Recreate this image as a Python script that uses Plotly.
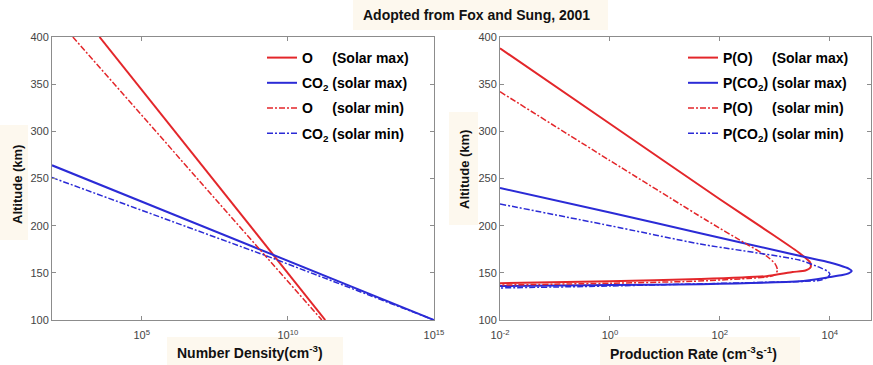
import plotly.graph_objects as go

# ---------------- data ----------------
# Left panel: number density (cm^-3) vs altitude (km)
alt_O_max = [400, 170, 100]
dens_O_max = [3.6e3, 3.0e9, 1.9e11]
alt_CO2_max = [264, 170, 100]
dens_CO2_max = [85, 2.6e9, 1e15]
alt_O_min = [400, 166.7, 100]
dens_O_min = [4.4e2, 1.9e9, 1.45e11]
alt_CO2_min = [251, 166.7, 100]
dens_CO2_min = [85, 2.4e9, 1e15]

# Right panel: production rate (cm^-3 s^-1) vs altitude (km)
prod_PO_max = [1e-2, 1, 100, 1e3, 2.8e3, 4.4e3, 4.5e3, 3.6e3, 2.1e3, 7e2, 44, 1, 1e-2]
alt_PO_max = [388, 308, 228, 189, 171, 161, 156, 152.5, 150.8, 146.5, 143.4, 141, 139]
prod_PCO2_max = [1e-2, 1, 44, 2.8e3, 1e4, 1.5e4, 2.2e4, 2.5e4, 2.2e4, 1.7e4, 1e4, 2.8e3, 44, 1, 1e-2]
alt_PCO2_max = [240, 214, 192, 168, 161, 158, 154.5, 152, 149.5, 147.6, 145.5, 141, 138, 137, 136]
prod_PO_min = [1e-2, 1, 56, 316, 700, 1000, 1120, 1000, 800, 316, 32, 1, 1e-2]
alt_PO_min = [342, 269, 206, 180, 168, 160, 153, 148, 146, 144, 141, 139, 137]
prod_PCO2_min = [1e-2, 1, 44, 2.8e3, 7e3, 9.5e3, 1e4, 8.9e3, 6.6e3, 7e2, 10, 1, 1e-2]
alt_PCO2_min = [223, 200, 180.5, 163.5, 155, 151, 148, 145, 142, 140, 137.5, 136, 134]

y_ticks = [100, 150, 200, 250, 300, 350, 400]
left_x_ticks = [1e5, 1e10, 1e15]
left_x_ticklabels = ["10<sup>5</sup>", "10<sup>10</sup>", "10<sup>15</sup>"]
right_x_ticks = [1e-2, 1, 1e2, 1e4]
right_x_ticklabels = ["10<sup>-2</sup>", "10<sup>0</sup>", "10<sup>2</sup>", "10<sup>4</sup>"]

names_left = ["O\u00a0\u00a0\u00a0\u00a0\u00a0(Solar max)", "CO<sub>2</sub> (solar max)",
              "O\u00a0\u00a0\u00a0\u00a0\u00a0(solar min)", "CO<sub>2</sub> (solar min)"]
names_right = ["P(O)\u00a0\u00a0\u00a0\u00a0\u00a0(Solar max)", "P(CO<sub>2</sub>) (solar max)",
               "P(O)\u00a0\u00a0\u00a0\u00a0\u00a0(solar min)", "P(CO<sub>2</sub>) (solar min)"]

RED = "#e3262a"
BLUE = "#2b2bd6"
FONT = "Liberation Sans"
BEIGE = "#fdf8ee"
DASHDOT = "6px,2px,2px,2px"

fig = go.Figure()

left_series = [(dens_O_max, alt_O_max, RED, "solid", 2),
               (dens_CO2_max, alt_CO2_max, BLUE, "solid", 2),
               (dens_O_min, alt_O_min, RED, DASHDOT, 1.5),
               (dens_CO2_min, alt_CO2_min, BLUE, DASHDOT, 1.5)]
for i, (x, y, c, d, w) in enumerate(left_series):
    fig.add_trace(go.Scatter(x=x, y=y, mode="lines", name=names_left[i],
                             line=dict(color=c, dash=d, width=w),
                             xaxis="x", yaxis="y", legend="legend",
                             legendgroup="l%d" % i))

right_series = [(prod_PO_max, alt_PO_max, RED, "solid", 2),
                (prod_PCO2_max, alt_PCO2_max, BLUE, "solid", 2),
                (prod_PO_min, alt_PO_min, RED, DASHDOT, 1.5),
                (prod_PCO2_min, alt_PCO2_min, BLUE, DASHDOT, 1.5)]
for i, (x, y, c, d, w) in enumerate(right_series):
    fig.add_trace(go.Scatter(x=x, y=y, mode="lines", name=names_right[i],
                             line=dict(color=c, dash=d, width=w, shape="spline", smoothing=0.6),
                             xaxis="x2", yaxis="y2", legend="legend2",
                             legendgroup="r%d" % i))

W, H = 873, 365
ytop = 1 - 37 / H
ybot = 1 - 320 / H

axis_common = dict(showline=True, linecolor="#8c8c8c", linewidth=1, mirror="ticks",
                   ticks="inside", ticklen=4, tickcolor="#8c8c8c", showgrid=False,
                   zeroline=False, automargin=False,
                   tickfont=dict(family=FONT, size=11, color="#444444"))
x_extra = dict(ticklabelstandoff=5)

fig.update_layout(
    template="none",
    width=W, height=H, margin=dict(l=0, r=0, t=0, b=0, pad=0, autoexpand=False),
    paper_bgcolor="white", plot_bgcolor="white",
    font=dict(family=FONT, color="black"),
    xaxis=dict(domain=[52 / W, 434 / W], type="log", range=[1.93, 15],
               tickvals=left_x_ticks, ticktext=left_x_ticklabels, anchor="y",
               **axis_common, **x_extra),
    yaxis=dict(domain=[ybot, ytop], range=[100, 400], tickvals=y_ticks, anchor="x",
               **axis_common),
    xaxis2=dict(domain=[500 / W, 871 / W], type="log", range=[-2, 4.75],
                tickvals=right_x_ticks, ticktext=right_x_ticklabels, anchor="y2",
                **axis_common, **x_extra),
    yaxis2=dict(domain=[ybot, ytop], range=[100, 400], tickvals=y_ticks, anchor="x2",
                **axis_common),
    legend=dict(x=262 / W, y=1 - 42 / H, xanchor="left", yanchor="top",
                bgcolor="rgba(255,255,255,0)", tracegroupgap=4, borderwidth=0,
                font=dict(family=FONT, size=14, color="black", weight="bold")),
    legend2=dict(x=683 / W, y=1 - 42 / H, xanchor="left", yanchor="top",
                 bgcolor="rgba(255,255,255,0)", tracegroupgap=4, borderwidth=0,
                 font=dict(family=FONT, size=14, color="black", weight="bold")),
    showlegend=True,
)

shapes = [
    (353, 0, 608, 30),    # title
    (0, 125, 28, 240),    # left y title
    (449, 112, 478, 225),  # right y title
    (167, 337, 343, 365),  # left x title
    (600, 337, 800, 365),  # right x title
]
for x0, y0, x1, y1 in shapes:
    fig.add_shape(type="rect", xref="paper", yref="paper",
                  x0=x0 / W, x1=x1 / W, y0=1 - y1 / H, y1=1 - y0 / H,
                  fillcolor=BEIGE, line=dict(width=0), layer="below")

ann = [
    dict(text="<b>Adopted from Fox and Sung, 2001</b>", x=477 / W, y=1 - 15 / H, textangle=0, size=14),
    dict(text="<b>Altitude (km)</b>", x=17 / W, y=1 - 185 / H, textangle=-90, size=13),
    dict(text="<b>Altitude (km)</b>", x=464 / W, y=1 - 170 / H, textangle=-90, size=13),
    dict(text="<b>Number Density(cm<sup>-3</sup>)</b>", x=250 / W, y=1 - 352 / H, textangle=0, size=14),
    dict(text="<b>Production Rate (cm<sup>-3</sup>s<sup>-1</sup>)</b>", x=693 / W, y=1 - 353 / H, textangle=0, size=14),
]
for a in ann:
    fig.add_annotation(text=a["text"], x=a["x"], y=a["y"], xref="paper", yref="paper",
                       xanchor="center", yanchor="middle", showarrow=False,
                       textangle=a["textangle"],
                       font=dict(family=FONT, size=a["size"], color="#111111"))

fig.write_html("out.html")
